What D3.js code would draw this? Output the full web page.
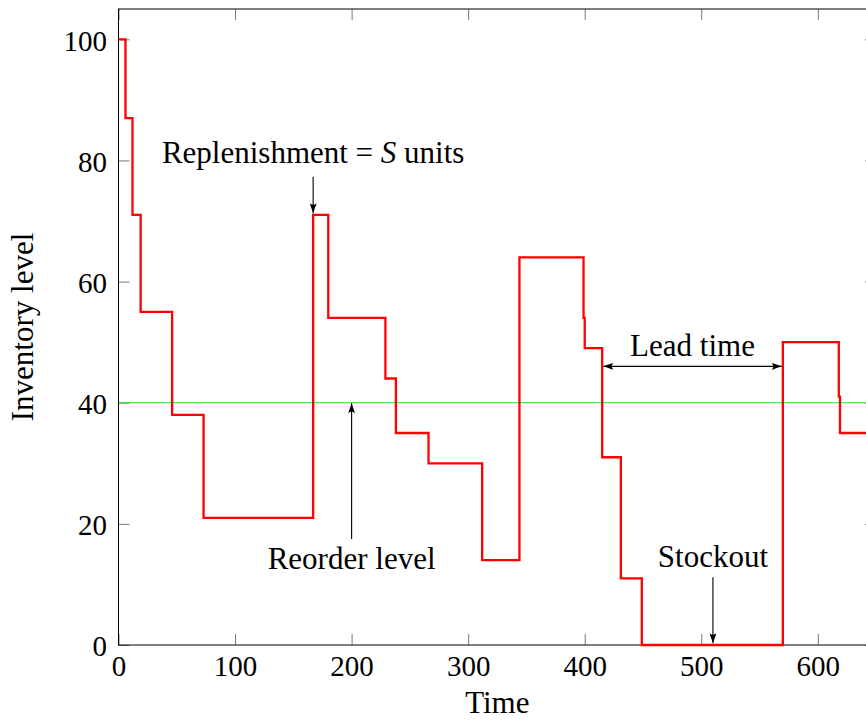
<!DOCTYPE html>
<html>
<head>
<meta charset="utf-8">
<script src="https://cdn.jsdelivr.net/npm/d3@7"></script>
<style>
  body { margin: 0; background: #fff; }
  svg { display: block; font-family: "Liberation Serif", "Times New Roman", serif; }
</style>
</head>
<body>
<script>
// event times and the inventory level right after each event (drawn as a step plot)
var times  = [0, 6, 12, 19, 46, 73, 167, 180, 229, 238, 266, 312, 344, 399, 400, 415, 431, 449, 570, 618, 619, 650];
var levels = [100, 87, 71, 55, 38, 21, 71, 54, 44, 35, 30, 14, 64, 54, 49, 31, 11, 0, 50, 41, 35, 35];

var reorderLevel = 40;
var xTicks = [0, 100, 200, 300, 400, 500, 600];
var yTicks = [0, 20, 40, 60, 80, 100];
var xDomain = [0, 650];
var yDomain = [0, 105];

// annotation arrows, in data coordinates ($..$ = math italic)
var noteLabels = ["Replenishment = $S$ units", "Reorder level", "Lead time", "Stockout"];
var noteFrom   = [[167, 77.3], [200, 17.5], [416, 46], [510, 11.2]];
var noteTo     = [[167, 71.3], [200, 39.9], [569, 46], [510, 0.3]];
var notePlace  = ["above", "below", "middle", "above"];

var FONT = "Liberation Serif, Times New Roman, serif";

var visualize = function() {
  var margin = { top: 9, left: 118.5 },
      width = 757.6,
      height = 636;

  var svg = d3.select("body").append("svg")
      .attr("width", 866)
      .attr("height", 720);

  var defs = svg.append("defs");
  defs.append("marker")
    .attr("id", "head")
    .attr("viewBox", "0 0 10 7")
    .attr("refX", 10)
    .attr("refY", 3.5)
    .attr("markerWidth", 10)
    .attr("markerHeight", 7)
    .attr("markerUnits", "userSpaceOnUse")
    .attr("orient", "auto-start-reverse")
    .append("path")
    .attr("d", "M0,0 Q3,3.5 0,7 L10,3.5 Z")
    .attr("fill", "#000");

  var g = svg.append("g")
    .attr("transform", "translate(" + margin.left + "," + margin.top + ")");

  var x = d3.scaleLinear().domain(xDomain).range([0, width]);
  var y = d3.scaleLinear().domain(yDomain).range([height, 0]);

  // axes: ticks point inward on all four sides
  var bottom = g.append("g")
    .attr("transform", "translate(0," + height + ")")
    .call(d3.axisBottom(x).tickValues(xTicks).tickSizeInner(-11).tickSizeOuter(0).tickPadding(10.4));
  var left = g.append("g")
    .call(d3.axisLeft(y).tickValues(yTicks).tickSizeInner(-11).tickSizeOuter(0).tickPadding(11.5));
  g.append("g")
    .call(d3.axisTop(x).tickValues(xTicks).tickSizeInner(-11).tickSizeOuter(0).tickFormat(""));
  g.append("g")
    .attr("transform", "translate(" + width + ",0)")
    .call(d3.axisRight(y).tickValues(yTicks).tickSizeInner(-11).tickSizeOuter(0).tickFormat(""));

  g.selectAll(".domain").remove();
  g.selectAll(".tick line").attr("stroke", "#777").attr("stroke-width", 1);
  g.selectAll("g").attr("font-family", FONT).attr("font-size", 29);
  g.selectAll(".tick text").attr("fill", "#000");
  left.selectAll(".tick text").attr("dy", "0.37em");

  // box
  g.append("rect")
    .attr("width", width)
    .attr("height", height)
    .attr("fill", "none")
    .attr("stroke", "#000")
    .attr("stroke-width", 1);

  // reorder level
  g.append("line")
    .attr("x1", x(xDomain[0]))
    .attr("x2", x(xDomain[1]))
    .attr("y1", y(reorderLevel))
    .attr("y2", y(reorderLevel))
    .attr("stroke", "#1ee61e")
    .attr("stroke-width", 1.1);

  // inventory
  var line = d3.line()
    .x(function(d) { return x(d[0]); })
    .y(function(d) { return y(d[1]); })
    .curve(d3.curveStepAfter);

  g.append("path")
    .datum(d3.zip(times, levels))
    .attr("d", line)
    .attr("fill", "none")
    .attr("stroke", "#ff0000")
    .attr("stroke-width", 2.3)
    .attr("stroke-linejoin", "miter");

  // annotations
  noteLabels.forEach(function(label, i) {
    var a = noteFrom[i], b = noteTo[i];
    var arrow = g.append("line")
      .attr("x1", x(a[0])).attr("y1", y(a[1]))
      .attr("x2", x(b[0])).attr("y2", y(b[1]))
      .attr("stroke", "#000")
      .attr("stroke-width", 1.1)
      .attr("marker-end", "url(#head)");
    var tx, ty;
    if (notePlace[i] == "middle") {
      arrow.attr("marker-start", "url(#head)");
      tx = (x(a[0]) + x(b[0])) / 2;
      ty = y(a[1]) - 10;
    } else if (notePlace[i] == "below") {
      tx = x(a[0]);
      ty = y(a[1]) + 30;
    } else {
      tx = x(a[0]);
      ty = y(a[1]) - 10.5 - (/[gjpqy]/.test(label) ? 3.5 : 0);
    }
    var t = g.append("text")
      .attr("x", tx)
      .attr("y", ty)
      .attr("text-anchor", "middle")
      .attr("font-family", FONT)
      .attr("font-size", 31)
      .attr("fill", "#000");
    label.split("$").forEach(function(part, k) {
      var s = t.append("tspan").text(part);
      if (k % 2 == 1) s.attr("font-style", "italic");
    });
  });

  // axis labels
  g.append("text")
    .attr("x", width / 2)
    .attr("y", height + 68)
    .attr("text-anchor", "middle")
    .attr("font-family", FONT)
    .attr("font-size", 31)
    .text("Time");

  g.append("text")
    .attr("transform", "translate(" + (33 - margin.left) + "," + (height / 2) + ") rotate(-90)")
    .attr("text-anchor", "middle")
    .attr("font-family", FONT)
    .attr("font-size", 31)
    .text("Inventory level");
};

visualize();
</script>
</body>
</html>
